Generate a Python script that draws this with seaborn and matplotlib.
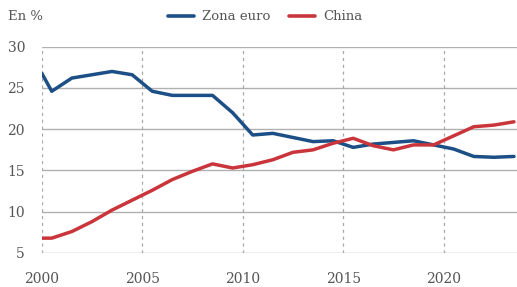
import pandas as pd
import matplotlib.pyplot as plt
import seaborn as sns

# years (first point at start of 2000, rest mid-year)
years = [2000.0, 2000.5, 2001.5, 2002.5, 2003.5, 2004.5, 2005.5, 2006.5,
         2007.5, 2008.5, 2009.5, 2010.5, 2011.5, 2012.5, 2013.5, 2014.5,
         2015.5, 2016.5, 2017.5, 2018.5, 2019.5, 2020.5, 2021.5, 2022.5, 2023.5]
zona_euro = [26.8, 24.6, 26.2, 26.6, 27.0, 26.6, 24.6, 24.1, 24.1, 24.1, 22.0,
             19.3, 19.5, 19.0, 18.5, 18.6, 17.8, 18.2, 18.4, 18.6, 18.1, 17.6,
             16.7, 16.6, 16.7]
china = [6.8, 6.8, 7.6, 8.8, 10.2, 11.4, 12.6, 13.9, 14.9, 15.8, 15.3, 15.7,
         16.3, 17.2, 17.5, 18.3, 18.9, 18.0, 17.5, 18.1, 18.1, 19.2, 20.3, 20.5,
         20.9]
series_names = ["Zona euro", "China"]
colors = ["#1c4f86", "#c9353b"]
yticks = [5, 10, 15, 20, 25, 30]
xticks = [2000, 2005, 2010, 2015, 2020]

df = pd.DataFrame({
    "year": years * 2,
    "value": zona_euro + china,
    "serie": [series_names[0]] * len(years) + [series_names[1]] * len(years),
})

sns.set_style("white")
plt.rcParams["font.family"] = ["DejaVu Serif"]

fig = plt.figure(figsize=(5.17, 2.87), dpi=100)
ax = fig.add_axes([41.7 / 517, 34 / 287, 475.3 / 517, 206.3 / 287])

for y in yticks:
    ax.axhline(y, color="#b0b0b0", lw=1.0, zorder=0)
for x in xticks:
    ax.axvline(x, color="#a8a8a8", lw=0.9, ls=(0, (2.5, 3)), zorder=0)

sns.lineplot(data=df, x="year", y="value", hue="serie", hue_order=series_names,
             palette=colors, lw=2.5, ax=ax, legend=False)

ax.set_xlim(2000, 2023.65)
ax.set_ylim(5, 30)
ax.set_xticks(xticks)
ax.set_yticks(yticks)
ax.set_xlabel("")
ax.set_ylabel("")
for s in ax.spines.values():
    s.set_visible(False)
ax.tick_params(length=0, labelsize=10, colors="#555555")
ax.tick_params(axis="y", pad=12)
ax.tick_params(axis="x", pad=14)

fig.text(8 / 517, 1 - 17 / 287, "En %", fontsize=9.5, color="#555555", va="center")

handles = [plt.Line2D([], [], color=c, lw=2.6) for c in colors]
fig.legend(handles, series_names, loc="center", bbox_to_anchor=(265 / 517, 1 - 17 / 287),
           ncol=2, frameon=False, fontsize=9.5, handlelength=2.0, columnspacing=1.4,
           handletextpad=0.6, labelcolor="#555555")

fig.savefig("out.png", dpi=100)
